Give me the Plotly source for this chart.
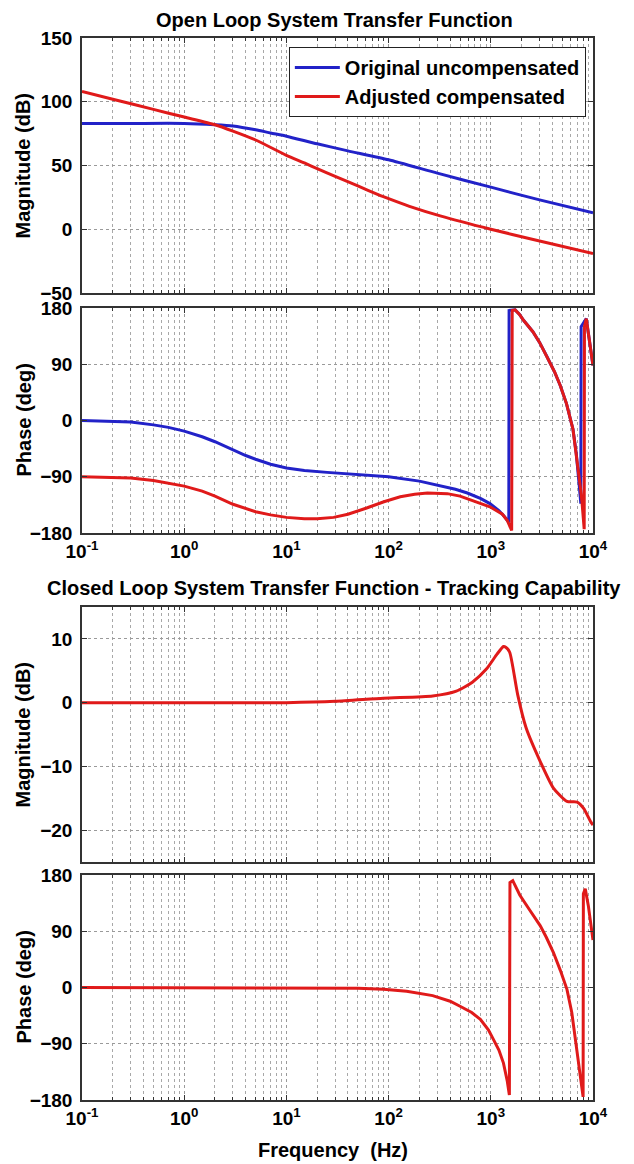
import plotly.graph_objects as go

# ---------------- data ----------------
ol_mag_freq_uncomp = [0.1, 0.3, 1, 2, 3, 5, 7, 10, 20, 40, 100, 300, 1000, 3000, 10000]
ol_mag_uncomp = [83, 83, 83, 82, 81, 78, 75.5, 73, 67, 61.5, 54.5, 44, 33, 23, 13]

ol_mag_freq_comp = [0.1, 0.2, 0.5, 1, 2, 3, 5, 10, 15, 20, 30, 50, 80, 100, 160, 320, 1000, 2600, 10000]
ol_mag_comp = [108, 102, 94, 88, 82, 77, 70, 58, 52, 47.5, 41.5, 34, 27, 24, 18, 10.5, 0, -8, -19]

ol_ph_freq_uncomp = [0.1, 0.2, 0.3, 0.5, 0.7, 1, 1.5, 2, 3, 4, 5, 7, 10, 15, 25, 50, 100, 200, 300, 450, 590,
                     800, 980, 1200, 1350, 1500,
                     1510, 1730, 1900, 2100, 2580, 3000, 3550, 4200, 4780, 5500, 6370, 6850, 7300, 7600,
                     7650, 8600, 9000, 9500, 10000]
ol_ph_uncomp = [0, -1, -2.5, -7, -11, -17, -26, -34, -47, -56, -62, -70, -76, -80, -83, -87, -90, -97, -103, -110, -116,
                -125, -133, -144, -153, -163,
                176, 177, 170, 160, 142, 125, 102, 78, 56, 27, -14, -52, -100, -133,
                150, 163, 140, 115, 88]

ol_ph_freq_comp = [0.1, 0.2, 0.3, 0.5, 0.7, 1, 1.5, 2, 3, 4, 5, 7, 10, 15, 20, 29, 40, 61, 90, 130, 180, 240, 375,
                   500, 700, 980, 1300, 1450, 1600,
                   1620, 1730, 1900, 2100, 2580, 3000, 3550, 4200, 4780, 5500, 6370, 6850, 7500, 7800, 8100, 8200,
                   8250, 8600, 9000, 9500, 10000]
ol_ph_comp = [-90, -91, -92, -96, -100, -105, -113, -121, -134, -141, -146, -151, -155, -157, -157, -155, -150, -140, -130,
              -122, -118, -116, -117, -121, -129, -138, -150, -160, -176,
              176, 177, 170, 160, 142, 125, 102, 78, 56, 27, -14, -52, -105, -130, -165, -174,
              150, 163, 140, 115, 88]

cl_mag_freq = [0.1, 10, 30, 89, 270, 460, 660, 910, 1150, 1330, 1400, 1530, 1830, 2210, 3040, 4100,
               5560, 7000, 8100, 9500, 10000]
cl_mag = [0, 0, 0.2, 0.7, 1.05, 1.8, 3.2, 5.3, 7.6, 8.8, 8.7, 7.9, 1.3, -3.9, -9.2, -13.4,
          -15.5, -15.6, -16.6, -18.7, -19.2]

cl_ph_freq = [0.1, 20, 50, 89, 150, 270, 400, 500, 650, 790, 950, 1060, 1200, 1330, 1450, 1520,
              1540, 1640, 1920, 2400, 3040, 3500, 4100, 4800, 5560, 6200, 6700, 7300, 7800, 8000,
              8050, 8400, 9000, 10000]
cl_ph = [0, 0, -1, -2.7, -6, -13, -22, -30, -40, -51, -68, -83, -100, -121, -150, -172,
         168, 171, 148, 124, 99, 80, 56, 27, -3, -40, -83, -130, -169, -175,
         150, 158, 131, 76]

x_tickvals = [0.1, 1, 10, 100, 1000, 10000]
x_ticktext = ["10<sup>-1</sup>", "10<sup>0</sup>", "10<sup>1</sup>", "10<sup>2</sup>", "10<sup>3</sup>", "10<sup>4</sup>"]
minor_vals = [m * d for d in [0.1, 1, 10, 100, 1000] for m in range(2, 10)]

BLUE = "#2222c8"
RED = "#e01a1a"
FONT = "Liberation Sans, Arial, sans-serif"

fig = go.Figure()
fig.add_trace(go.Scatter(x=ol_mag_freq_uncomp, y=ol_mag_uncomp, mode="lines", line=dict(color=BLUE, width=3, shape="spline", smoothing=0.6),
                         name="Original uncompensated", xaxis="x", yaxis="y"))
fig.add_trace(go.Scatter(x=ol_mag_freq_comp, y=ol_mag_comp, mode="lines", line=dict(color=RED, width=3, shape="spline", smoothing=0.6),
                         name="Adjusted compensated", xaxis="x", yaxis="y"))
fig.add_trace(go.Scatter(x=ol_ph_freq_uncomp, y=ol_ph_uncomp, mode="lines", line=dict(color=BLUE, width=3),
                         showlegend=False, xaxis="x2", yaxis="y2"))
fig.add_trace(go.Scatter(x=ol_ph_freq_comp, y=ol_ph_comp, mode="lines", line=dict(color=RED, width=3),
                         showlegend=False, xaxis="x2", yaxis="y2"))
fig.add_trace(go.Scatter(x=cl_mag_freq, y=cl_mag, mode="lines", line=dict(color=RED, width=3, shape="spline", smoothing=0.6),
                         showlegend=False, xaxis="x3", yaxis="y3"))
fig.add_trace(go.Scatter(x=cl_ph_freq, y=cl_ph, mode="lines", line=dict(color=RED, width=3),
                         showlegend=False, xaxis="x4", yaxis="y4"))

# page has an 8px body margin: figure origin is at (8, 8) on the page
OFF = 8
H = 1062.0
def dom(top_px, bot_px):
    return [(1100 - bot_px) / H, (1100 - top_px) / H]

domains = [dom(38, 293), dom(308, 533), dom(607, 862), dom(875, 1100)]
grid = dict(showgrid=True, gridcolor="#9a9a9a", gridwidth=1, griddash="dot")
axline = dict(showline=True, linecolor="#333333", linewidth=1.5, mirror="allticks",
              ticks="inside", ticklen=5, tickcolor="#333333", zeroline=False, automargin=False)
tickfont = dict(family=FONT, size=19, color="black", weight="bold")

layout = dict(width=634 - OFF, height=1164 - OFF, margin=dict(l=82 - OFF, r=41, t=38 - OFF, b=64),
              paper_bgcolor="white", plot_bgcolor="white", showlegend=True,
              font=dict(family=FONT, color="black"),
              legend=dict(x=0.986, y=0.9915, xanchor="right", yanchor="top", bgcolor="white",
                          bordercolor="#222222", borderwidth=1,
                          font=dict(family=FONT, size=20, color="black", weight="bold"),
                          tracegroupgap=0, itemwidth=45))

yranges = [[-50, 150], [-180, 180], [-25, 15], [-180, 180]]
yticks = [[-50, 0, 50, 100, 150], [-180, -90, 0, 90, 180], [-20, -10, 0, 10], [-180, -90, 0, 90, 180]]
for i in range(4):
    sx = "" if i == 0 else str(i + 1)
    layout["xaxis" + sx] = dict(type="log", range=[-1, 4], domain=[0, 1], anchor="y" + sx,
                                tickmode="array", tickvals=x_tickvals, ticktext=x_ticktext,
                                showticklabels=(i in (1, 3)), tickfont=tickfont,
                                minor=dict(tickmode="array", tickvals=minor_vals, ticks="inside", ticklen=3,
                                           tickcolor="#333333", showgrid=True, gridcolor="#a8a8a8", griddash="dot"),
                                **grid, **axline)
    layout["yaxis" + sx] = dict(range=yranges[i], domain=domains[i], anchor="x" + sx,
                                tickmode="array", tickvals=yticks[i], tickfont=tickfont,
                                ticklabelstandoff=4, **grid, **axline)

ann_font = dict(family=FONT, size=20, color="black", weight="bold")
annotations = [
    dict(text="Open Loop System Transfer Function", xref="paper", yref="paper", x=0.495, y=(1100 - 20) / H,
         xanchor="center", yanchor="middle", showarrow=False, font=ann_font),
    dict(text="Closed Loop System Transfer Function - Tracking Capability", xref="paper", yref="paper",
         x=0.494, y=(1100 - 588) / H, xanchor="center", yanchor="middle", showarrow=False, font=ann_font),
    dict(text="Frequency  (Hz)", xref="paper", yref="paper", x=0.492, y=(1100 - 1150) / H,
         xanchor="center", yanchor="middle", showarrow=False, font=ann_font),
]
ylabels = ["Magnitude (dB)", "Phase (deg)", "Magnitude (dB)", "Phase (deg)"]
for i, lab in enumerate(ylabels):
    sy = "y" if i == 0 else "y" + str(i + 1)
    annotations.append(dict(text=lab, xref="paper", yref=sy + " domain", x=(23 - 82) / 511.0, y=0.5,
                            xanchor="center", yanchor="middle", textangle=-90, showarrow=False, font=ann_font))
layout["annotations"] = annotations

fig.update_layout(**layout)
fig.write_html("out.html")
